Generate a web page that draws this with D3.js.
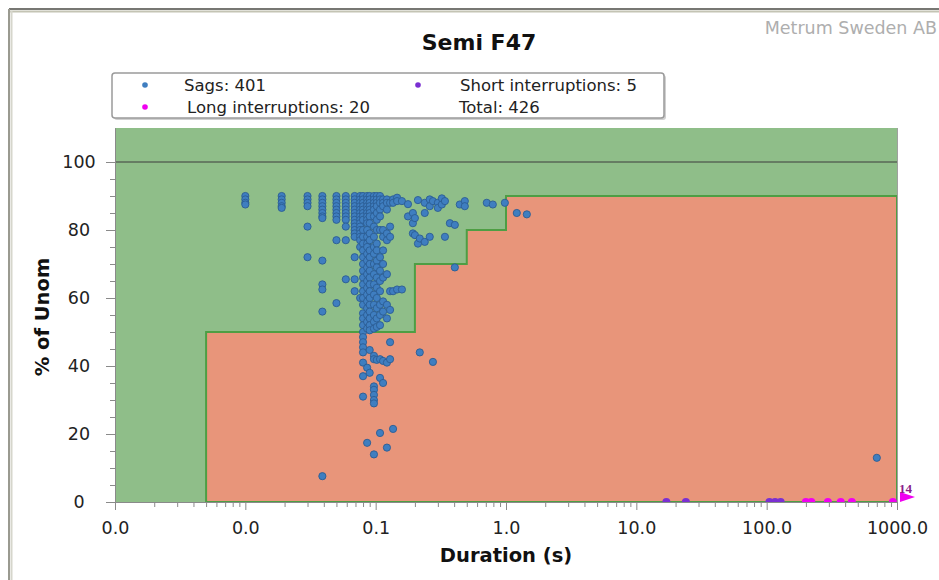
<!DOCTYPE html>
<html>
<head>
<meta charset="utf-8">
<script src="https://cdn.jsdelivr.net/npm/d3@7"></script>
<style>
  body { margin: 0; background: #fff; }
  svg { display: block; font-family: "DejaVu Sans", Verdana, sans-serif; }
</style>
</head>
<body>
<svg id="chart" width="939" height="580"></svg>
<script>
// ---- Data -------------------------------------------------------------
const chartTitle = "Semi F47";
const brand = "Metrum Sweden AB";

// Axis ticks
const xTickValues = [0.001, 0.01, 0.1, 1, 10, 100, 1000];
const yTickValues = [0, 20, 40, 60, 80, 100];

// SEMI F47 tolerance curve (duration in s, % of Unom), step-after
const curveDur = [0.005, 0.2, 0.5, 1, 1000];
const curvePct = [50, 70, 80, 90, 90];

// Sags, grouped by duration column (s) with their residual voltages (%)
const sagColumnDur = [0.01, 0.019, 0.03, 0.039, 0.05, 0.059, 0.069, 0.076, 0.08, 0.086,
  0.09, 0.097, 0.102, 0.108, 0.114, 0.122, 0.129, 0.136, 0.146, 0.159,
  0.177, 0.193, 0.2, 0.211, 0.218, 0.238, 0.26, 0.275, 0.3, 0.322,
  0.34, 0.371, 0.405, 0.442, 0.483, 0.712, 0.792, 0.98, 1.21, 1.445, 700];
const sagColumnPct = [
  [90, 89, 88, 87.5],
  [90, 89, 88, 87, 86.5],
  [90, 89, 88, 87, 81, 72],
  [90, 89, 88, 87, 86, 85, 84, 83.5, 71, 64, 62.5, 56, 7.6],
  [90, 89, 88, 87, 86, 85, 84, 83, 77, 58.5],
  [90, 89, 88, 87, 86, 85, 84, 83, 81, 77, 65.5],
  [90, 89, 88, 87, 86, 85, 84, 83, 82, 81, 80, 79, 78, 72, 65.5, 62],
  [90, 89, 88, 87, 86, 85, 84, 83, 82, 81, 80, 79, 78, 77, 75, 60],
  [90, 89, 88, 87, 86, 85, 84, 83, 80, 78, 76, 74, 72, 70, 68, 66, 64, 62, 60, 58, 55.5, 54, 52, 50, 48.5, 47, 45.5, 44, 41, 37, 31],
  [90, 89, 88, 87, 86, 85, 84, 83, 82, 80, 78, 76, 75, 73, 71, 69, 67, 65, 63, 61, 59, 57, 55, 53, 51, 39.5, 17.4],
  [90, 89, 88, 87, 86, 85, 84, 82, 79, 77, 74, 72, 70, 68, 66, 64, 62, 60, 58, 56, 54, 52, 50.5, 44.7, 38],
  [90, 89, 88, 87, 86, 84, 81, 78, 75, 73, 70, 67, 64, 61, 58, 55, 53, 51, 43, 42, 34, 33, 31.5, 30, 29, 14],
  [90, 89, 88, 87, 85, 83, 80, 76, 74, 71, 69, 66, 63, 60, 57, 54, 51.5, 41.8],
  [90, 89, 88, 86, 84, 80, 72, 68, 65, 62, 58, 55, 52, 42, 36.5, 20.3],
  [89, 88, 87, 80, 78, 74, 70, 66, 59, 56, 41.5, 35],
  [89, 88, 86, 79, 77, 67, 58, 54, 41, 16],
  [88, 81, 78, 62, 56.5, 47, 42],
  [89, 88, 62, 21.5],
  [89.5, 88.5, 62.5],
  [88.5, 62.5],
  [87.6, 84],
  [85, 82, 79],
  [83.5, 78.5],
  [88.8, 76],
  [77.5, 44],
  [88, 85, 76.5],
  [89, 87, 78],
  [88.5, 41.2],
  [88, 86.5],
  [89.3, 87.5],
  [88.5, 78],
  [82],
  [81.5, 69],
  [87.5],
  [88.5, 87],
  [88],
  [87.5],
  [88],
  [85],
  [84.6],
  [13]
];

// Interruptions (duration in s, residual %)
const shortDur = [17, 24, 105, 116, 128];
const shortPct = [0, 0, 0, 0, 0];
const longDur = [200, 220, 295, 370, 450, 930];
const longPct = [0, 0, 0, 0, 0, 0];
const longOverflowCount = 14;   // long interruptions beyond the axis maximum

// Legend
const legendLabels = ["Sags: 401", "Short interruptions: 5", "Long interruptions: 20", "Total: 426"];

// ---- Styling ----------------------------------------------------------
const colors = {
  okZone: "#8fbe89",
  failZone: "#e8957a",
  curveLine: "#4e9e44",
  sag: "#3f7ec0",
  sagStroke: "#2b5c93",
  short: "#7a2fd2",
  long: "#f000f0",
  axis: "#8a8a8a",
  text: "#222"
};

const svg = d3.select("#chart");
const x = d3.scaleLog().domain([0.001, 1000]).range([115, 897]);
const y = d3.scaleLinear().domain([0, 110]).range([502, 128]);
const [px0, px1] = x.range();
const [py0, py1] = y.range();

// Window frame (top and left edges)
svg.append("line").attr("x1", 9).attr("x2", 939).attr("y1", 9).attr("y2", 9)
  .attr("stroke", "#4a4a44").attr("stroke-width", 1.5);
svg.append("line").attr("x1", 9).attr("x2", 939).attr("y1", 11.5).attr("y2", 11.5)
  .attr("stroke", "#c4c4b4").attr("stroke-width", 2);
svg.append("line").attr("x1", 9).attr("x2", 9).attr("y1", 9).attr("y2", 580)
  .attr("stroke", "#9a9a90").attr("stroke-width", 2);
svg.append("line").attr("x1", 11.5).attr("x2", 11.5).attr("y1", 11).attr("y2", 580)
  .attr("stroke", "#d6d6cc").attr("stroke-width", 2);

// Brand and title
svg.append("text").attr("x", 937).attr("y", 34).attr("text-anchor", "end")
  .attr("font-size", 17.5).attr("fill", "#aeaeae").text(brand);
svg.append("text").attr("x", 479).attr("y", 50).attr("text-anchor", "middle")
  .attr("font-size", 22).attr("font-weight", "bold").attr("fill", "#111").text(chartTitle);

// Legend
const lg = svg.append("g");
lg.append("rect").attr("x", 114).attr("y", 75).attr("width", 552).attr("height", 45)
  .attr("rx", 3).attr("fill", "#d0d0d0");
lg.append("rect").attr("x", 112).attr("y", 73).attr("width", 552).attr("height", 45)
  .attr("rx", 3).attr("fill", "#fff").attr("stroke", "#9a9a9a").attr("stroke-width", 1.5);
const legendItems = [
  { label: legendLabels[0], color: colors.sag, dx: 145, tx: 184, row: 0 },
  { label: legendLabels[1], color: colors.short, dx: 418, tx: 460, row: 0 },
  { label: legendLabels[2], color: colors.long, dx: 145, tx: 187, row: 1 },
  { label: legendLabels[3], color: null, dx: 0, tx: 459, row: 1 }
];
legendItems.forEach(it => {
  const cy = 85 + it.row * 22;
  if (it.color) {
    lg.append("circle").attr("cx", it.dx).attr("cy", cy).attr("r", 2.8).attr("fill", it.color);
  }
  lg.append("text").attr("x", it.tx).attr("y", cy + 6).attr("font-size", 16.5)
    .attr("fill", colors.text).text(it.label);
});

// Plot area
const defs = svg.append("defs");
defs.append("clipPath").attr("id", "plot-clip").append("rect")
  .attr("x", px0).attr("y", py1).attr("width", px1 - px0).attr("height", py0 - py1);

svg.append("rect").attr("x", px0).attr("y", py1).attr("width", px1 - px0).attr("height", py0 - py1)
  .attr("fill", colors.okZone);

// Tolerance zone below the curve
const curveData = curveDur.map((d, i) => ({ dur: d, pct: curvePct[i] }));
const area = d3.area().x(d => x(d.dur)).y0(y(0)).y1(d => y(d.pct)).curve(d3.curveStepAfter);
const zoneG = svg.append("g").attr("clip-path", "url(#plot-clip)");
zoneG.append("path").datum(curveData).attr("d", area)
  .attr("fill", colors.failZone).attr("stroke", colors.curveLine).attr("stroke-width", 2);

// 100 % reference line
svg.append("line").attr("x1", px0).attr("x2", px1).attr("y1", y(100)).attr("y2", y(100))
  .attr("stroke", "#3c3c3c").attr("stroke-width", 1);

// Right plot edge
svg.append("line").attr("x1", px1 + 0.5).attr("x2", px1 + 0.5).attr("y1", py1).attr("y2", py0)
  .attr("stroke", "#a0a0a0").attr("stroke-width", 1);

// Axes
const fmt = d3.format(".1f");
const xMinor = [];
xTickValues.slice(0, -1).forEach(dec => { for (let k = 2; k <= 9; k++) xMinor.push(dec * k); });
const yMinor = d3.range(5, 100, 5).filter(v => v % 20 !== 0);

function styleAxis(g) {
  g.select(".domain").attr("stroke", colors.axis);
  g.selectAll(".tick line").attr("stroke", colors.axis);
  g.selectAll(".tick text").attr("fill", colors.text).attr("font-family", "DejaVu Sans, Verdana, sans-serif");
}

const xAxisG = svg.append("g").attr("transform", `translate(0,${py0})`)
  .call(d3.axisBottom(x).tickValues(xTickValues).tickFormat(fmt).tickSize(8).tickSizeOuter(0).tickPadding(12));
xAxisG.selectAll(".tick text").attr("font-size", 17.5);
styleAxis(xAxisG);
const xMinorG = svg.append("g").attr("transform", `translate(0,${py0})`)
  .call(d3.axisBottom(x).tickValues(xMinor).tickFormat("").tickSize(5).tickSizeOuter(0));
styleAxis(xMinorG);

const yAxisG = svg.append("g").attr("transform", `translate(${px0},0)`)
  .call(d3.axisLeft(y).tickValues(yTickValues).tickFormat(d3.format("d")).tickSize(9).tickSizeOuter(0));
yAxisG.selectAll(".tick text").attr("font-size", 17.5).attr("text-anchor", "middle").attr("x", 79 - px0);
styleAxis(yAxisG);
const yMinorG = svg.append("g").attr("transform", `translate(${px0},0)`)
  .call(d3.axisLeft(y).tickValues(yMinor).tickFormat("").tickSize(5).tickSizeOuter(0));
styleAxis(yMinorG);

// Axis titles
svg.append("text").attr("x", (px0 + px1) / 2).attr("y", 562).attr("text-anchor", "middle")
  .attr("font-size", 19.5).attr("font-weight", "bold").attr("fill", "#111").text("Duration (s)");
svg.append("text").attr("transform", `translate(49,${(py0 + py1) / 2 + 2}) rotate(-90)`)
  .attr("text-anchor", "middle").attr("font-size", 19.5).attr("font-weight", "bold")
  .attr("fill", "#111").text("% of Unom");

// Events
const sags = [];
sagColumnDur.forEach((d, i) => sagColumnPct[i].forEach(p => sags.push({ dur: d, pct: p })));
const shorts = shortDur.map((d, i) => ({ dur: d, pct: shortPct[i] }));
const longs = longDur.map((d, i) => ({ dur: d, pct: longPct[i] }));

const pts = svg.append("g").attr("clip-path", "url(#plot-clip)");
pts.selectAll("circle.sag").data(sags).join("circle").attr("class", "sag")
  .attr("cx", d => x(d.dur)).attr("cy", d => y(d.pct)).attr("r", 3.6)
  .attr("fill", colors.sag).attr("stroke", colors.sagStroke).attr("stroke-width", 0.9);
pts.selectAll("circle.short").data(shorts).join("circle").attr("class", "short")
  .attr("cx", d => x(d.dur)).attr("cy", d => y(d.pct)).attr("r", 4)
  .attr("fill", colors.short);
pts.selectAll("circle.long").data(longs).join("circle").attr("class", "long")
  .attr("cx", d => x(d.dur)).attr("cy", d => y(d.pct)).attr("r", 4)
  .attr("fill", colors.long);

// Overflow marker for long interruptions beyond the axis
const ox = x(1000), oy = y(0);
svg.append("path")
  .attr("d", `M${ox + 3},${oy - 10} L${ox + 18},${oy - 5} L${ox + 3},${oy}Z`)
  .attr("fill", colors.long);
svg.append("text").attr("x", ox + 2).attr("y", oy - 9).attr("font-size", 13)
  .attr("font-weight", "bold").attr("font-family", "Liberation Serif, serif")
  .attr("fill", "#8a1d8a").text(longOverflowCount);
</script>
</body>
</html>
